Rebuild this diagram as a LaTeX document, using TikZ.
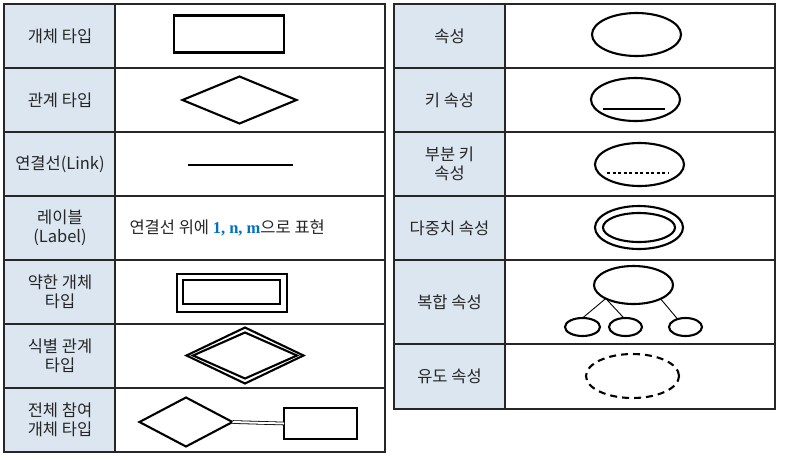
\documentclass[tikz,border=0pt]{standalone}
\usepackage{fontspec}
\setmainfont{Noto Sans CJK KR}
\newfontfamily\numfont{Liberation Serif}
\usetikzlibrary{shapes.geometric}
\usetikzlibrary{positioning}
\definecolor{cellblue}{HTML}{DCE6F1}
\definecolor{gridgray}{HTML}{262626}
\definecolor{numblue}{HTML}{0070C0}
\definecolor{txtgray}{HTML}{262626}
\begin{document}
\begin{tikzpicture}[x=1pt,y=-1pt,
  grid/.style={draw=gridgray,line width=2pt},
  lbl/.style={align=center,text=txtgray,font=\fontsize{16.5}{19}\selectfont},
  shp/.style={draw=black,line width=2.1pt,inner sep=0pt,outer sep=0pt},
  ent/.style={shp,rectangle},
  rel/.style={shp,diamond},
  att/.style={shp,ellipse},
  sz/.style 2 args={minimum width=#1pt,minimum height=#2pt}]
\useasboundingbox (0,0) rectangle (787,459);
% table cells
\fill[cellblue] (4,4) rectangle (115,452);
\fill[cellblue] (394,4) rectangle (505,409);
\draw[grid] (4,4) rectangle (385,452);
\draw[grid] (115,4) -- (115,452);
\foreach \y in {68,132,196,260,324,388}
  \draw[grid] (4,\y) -- (385,\y);
\draw[grid] (394,4) rectangle (775,409);
\draw[grid] (505,4) -- (505,409);
\foreach \y in {68,132,196,260,344}
  \draw[grid] (394,\y) -- (775,\y);
% labels
\foreach \y/\t [count=\i] in {36/{개체 타입},100/{관계 타입},164/{연결선(Link)},
    228/{레이블\\(Label)},292/{약한 개체\\타입},356/{식별 관계\\타입},420/{전체 참여\\개체 타입}}
  \node[lbl] (l\i) at (60,\y) {\t};
\foreach \y/\t [count=\i] in {36/{속성},100/{키 속성},164/{부분 키\\속성},
    228/{다중치 속성},302/{복합 속성},376/{유도 속성}}
  \node[lbl] (r\i) at (449.5,\y) {\t};
% left symbols
\node[ent,sz={110}{37}] (ent) at (229,34) {};
\node[rel,sz={114}{47}] (rel) at (239.5,100) {};
\coordinate (lnka) at (188,165);
\coordinate (lnkb) at (293,165);
\draw[line width=1.4pt] (lnka) -- (lnkb);
\node[lbl,anchor=west] (lab) at (126,228)
  {연결선 위에 {\numfont\bfseries\color{numblue}1, n, m}으로 표현};
\node[ent,sz={110}{38}] (weak) at (232,293) {};
\node[ent,sz={97}{24}] (weakin) at (231.5,292) {};
\node[rel,sz={117}{56}] (idrel) at (245,355.5) {};
\node[rel,sz={104}{46}] (idrelin) at (245,355.5) {};
\node[rel,sz={93}{49}] (trel) at (186,422) {};
\node[ent,sz={73}{31}] (tent) at (320.5,423.5) {};
\draw[double,double distance=2pt,line width=0.8pt] (trel.east) -- (tent.west);
% right symbols
\node[att,sz={89}{43}] (attr) at (636.5,34.5) {};
\node[att,sz={89}{43}] (key) at (635.5,99.5) {};
\draw[line width=1.1pt] (603,109) -- (665,109);
\node[att,sz={89}{43}] (pkey) at (639.5,164.5) {};
\draw[line width=1.1pt,dash pattern=on 3pt off 2.5pt] (607,173) -- (669,173);
\node[att,sz={88}{43}] (multi) at (639,227.5) {};
\node[att,sz={72}{29}] (multiin) at (639,227.5) {};
\node[att,sz={79}{38}] (comp) at (633.5,285) {};
\node[att,sz={35}{18}] (s1) at (582.5,327) {};
\node[att,sz={33}{18}] (s2) at (625.5,327) {};
\node[att,sz={33}{18}] (s3) at (685.5,327) {};
\draw[line width=0.9pt] (comp.206) -- (s1.north);
\draw[line width=0.9pt] (comp.206) -- (s2.100);
\draw[line width=0.9pt] (comp.333) -- (s3.135);
\node[att,sz={93}{44},dash pattern=on 7pt off 5pt] (deriv) at (632.5,376) {};
\end{tikzpicture}
\end{document}
